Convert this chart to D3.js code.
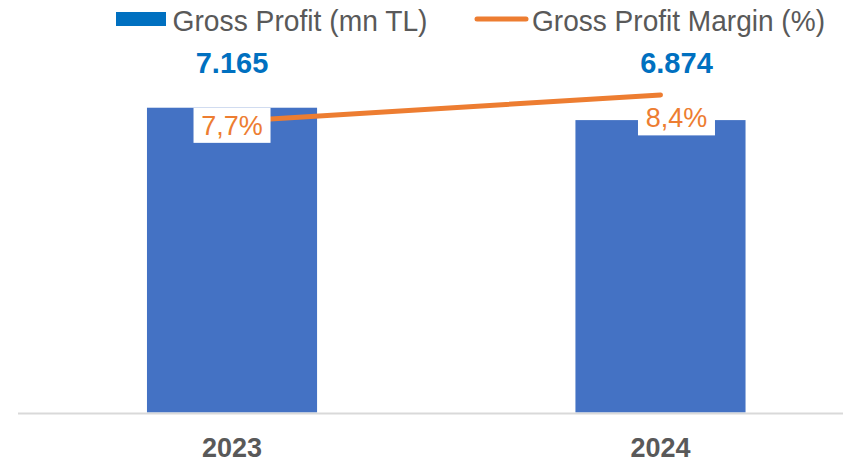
<!DOCTYPE html>
<html><head><meta charset="utf-8">
<script src="https://cdn.jsdelivr.net/npm/d3@7"></script>
<style>body{margin:0;background:#fff}svg{display:block}</style>
</head><body>
<script>
const categories = ["2023", "2024"];
const grossProfit = [7165, 6874];
const grossProfitLabels = ["7.165", "6.874"];
const margin = [7.7, 8.4];
const marginLabels = ["7,7%", "8,4%"];
const legendLabels = ["Gross Profit (mn TL)", "Gross Profit Margin (%)"];

const W = 843, H = 465;
const svg = d3.select("body").append("svg").attr("width", W).attr("height", H);
const font = "Liberation Sans, Arial, sans-serif";

const x = d3.scaleBand().domain(categories).range([18, 874.5]).paddingInner(0.603).paddingOuter(0.301);
const y = d3.scaleLinear().domain([0, 8000]).range([412.5, 72.2]);
const y2 = d3.scaleLinear().domain([0, 9]).range([412.5, 72.2]);

// bars
svg.selectAll("rect.bar").data(categories).join("rect").attr("class", "bar")
  .attr("x", d => x(d)).attr("width", x.bandwidth())
  .attr("y", (d, i) => y(grossProfit[i])).attr("height", (d, i) => y(0) - y(grossProfit[i]))
  .attr("fill", "#4472C4");

// axis line
svg.append("line").attr("x1", 18).attr("x2", W).attr("y1", 413.5).attr("y2", 413.5)
  .attr("stroke", "#D9D9D9").attr("stroke-width", 2);

// x axis labels
const xAxis = d3.axisBottom(x).tickSize(0).tickPadding(0);
const gx = svg.append("g").attr("transform", "translate(0,457)").call(xAxis);
gx.select(".domain").remove();
gx.selectAll("text").attr("dy", 0).attr("y", 0).attr("font-family", font).attr("font-size", 27)
  .attr("font-weight", "bold").attr("fill", "#595959");

// line
const cx = (d) => x(d) + x.bandwidth() / 2;
const line = d3.line().x((d, i) => cx(categories[i])).y(d => y2(d));
svg.append("path").datum(margin).attr("d", line).attr("fill", "none")
  .attr("stroke", "#ED7D31").attr("stroke-width", 5).attr("stroke-linecap", "round");

// value labels
const labelDx = [0, 16];
svg.selectAll("text.val").data(categories).join("text").attr("class", "val")
  .attr("x", (d, i) => cx(d) + labelDx[i]).attr("y", 73.3)
  .attr("text-anchor", "middle").attr("font-family", font).attr("font-size", 29)
  .attr("font-weight", "bold").attr("fill", "#0070C0")
  .text((d, i) => grossProfitLabels[i]);

// margin labels with white boxes
const pctDy = [4, 23];
const pctDx = [0, 16];
categories.forEach((d, i) => {
  const px = cx(d) + pctDx[i], py = y2(margin[i]) + pctDy[i];
  svg.append("rect").attr("x", px - 38.5).attr("y", py - 17.5).attr("width", 77).attr("height", 35).attr("fill", "#fff");
  svg.append("text").attr("x", px).attr("y", py + 9.5).attr("text-anchor", "middle")
    .attr("font-family", font).attr("font-size", 27).attr("fill", "#ED7D31").text(marginLabels[i]);
});

// legend
const lg = svg.append("g");
lg.append("rect").attr("x", 116).attr("y", 12).attr("width", 50).attr("height", 14).attr("fill", "#0070C0");
lg.append("text").attr("x", 172.5).attr("y", 30.5).attr("font-family", font).attr("font-size", 29)
  .attr("textLength", 255).attr("lengthAdjust", "spacingAndGlyphs")
  .attr("fill", "#595959").text(legendLabels[0]);
lg.append("line").attr("x1", 477).attr("x2", 526).attr("y1", 19).attr("y2", 19)
  .attr("stroke", "#ED7D31").attr("stroke-width", 5).attr("stroke-linecap", "round");
lg.append("text").attr("x", 532).attr("y", 30.5).attr("font-family", font).attr("font-size", 29)
  .attr("textLength", 293).attr("lengthAdjust", "spacingAndGlyphs")
  .attr("fill", "#595959").text(legendLabels[1]);
</script>
</body></html>
